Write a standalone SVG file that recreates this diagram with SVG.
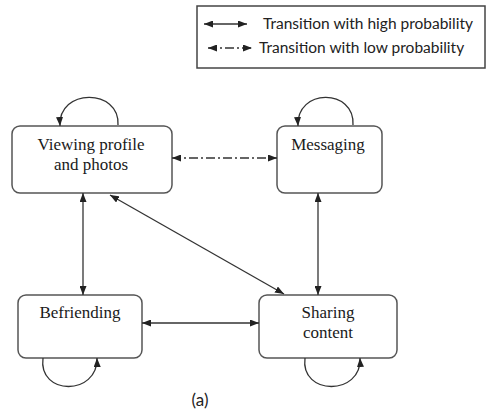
<svg xmlns="http://www.w3.org/2000/svg" width="489" height="416" viewBox="0 0 489 416">
  <style>
    .box { fill: #ffffff; stroke: #555555; stroke-width: 1.5; }
    .label { font-family: 'Liberation Serif', 'DejaVu Serif', serif; font-size: 17px; fill: #1a1a1a; text-anchor: middle; }
    .legend-text { font-family: Lato, 'Liberation Sans', sans-serif; font-size: 15.5px; fill: #222222; }
    .edge { fill: none; stroke: #333333; stroke-width: 1.3; }
    .dashdot { stroke-dasharray: 9 3 2 3; }
  </style>
  <defs>
    <marker id="head" markerUnits="userSpaceOnUse" viewBox="0 0 9 7" markerWidth="9" markerHeight="7" refX="9" refY="3.5" orient="auto-start-reverse">
      <path d="M0,0 L9,3.5 L0,7 z" fill="#222222"/>
    </marker>
  </defs>

  <rect width="489" height="416" fill="#ffffff"/>

  <!-- legend -->
  <g id="legend">
    <rect x="197" y="6" width="288" height="62" fill="#ffffff" stroke="#444444" stroke-width="1.5"/>
    <line class="edge" x1="204" y1="24" x2="247" y2="24" marker-start="url(#head)" marker-end="url(#head)"/>
    <text class="legend-text" x="263" y="29">Transition with high probability</text>
    <line class="edge dashdot" x1="208" y1="48" x2="252" y2="48" marker-start="url(#head)" marker-end="url(#head)"/>
    <text class="legend-text" x="259" y="53">Transition with low probability</text>
  </g>

  <!-- states -->
  <g id="viewing">
    <rect class="box" x="12" y="126" width="160" height="67" rx="8"/>
    <text class="label" x="91" y="150">Viewing profile</text>
    <text class="label" x="91" y="170">and photos</text>
  </g>
  <g id="messaging">
    <rect class="box" x="277" y="126" width="105" height="67" rx="8"/>
    <text class="label" x="328" y="150">Messaging</text>
  </g>
  <g id="befriending">
    <rect class="box" x="18" y="295" width="124" height="63" rx="8"/>
    <text class="label" x="80" y="318">Befriending</text>
  </g>
  <g id="sharing">
    <rect class="box" x="259" y="295" width="138" height="63" rx="8"/>
    <text class="label" x="328" y="318">Sharing</text>
    <text class="label" x="328" y="338">content</text>
  </g>

  <!-- transitions -->
  <g id="connectors">
    <!-- self loops -->
    <path class="edge" d="M118,125 C120,88 58,88 60,126" marker-end="url(#head)"/>
    <path class="edge" d="M353,125 C355,88 296,88 298,126" marker-end="url(#head)"/>
    <path class="edge" d="M43,358 C38,396 98,396 97,358" marker-end="url(#head)"/>
    <path class="edge" d="M305,358 C300,396 362,396 360,358" marker-end="url(#head)"/>
    <!-- viewing <-> messaging (low probability) -->
    <line class="edge dashdot" x1="172" y1="158" x2="277" y2="158" marker-start="url(#head)" marker-end="url(#head)"/>
    <!-- viewing <-> befriending -->
    <line class="edge" x1="83" y1="193" x2="83" y2="295" marker-start="url(#head)" marker-end="url(#head)"/>
    <!-- messaging <-> sharing -->
    <line class="edge" x1="318" y1="193" x2="318" y2="295" marker-start="url(#head)" marker-end="url(#head)"/>
    <!-- befriending <-> sharing -->
    <line class="edge" x1="142" y1="323" x2="259" y2="323" marker-start="url(#head)" marker-end="url(#head)"/>
    <!-- viewing <-> sharing -->
    <line class="edge" x1="110" y1="195" x2="284" y2="294" marker-start="url(#head)" marker-end="url(#head)"/>
  </g>

  <text x="200" y="406" font-family="Lato, 'Liberation Sans', sans-serif" font-size="17" fill="#222222" text-anchor="middle">(a)</text>
</svg>
